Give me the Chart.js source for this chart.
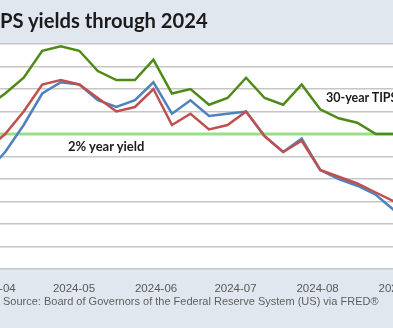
<!DOCTYPE html>
<html>
<head>
<meta charset="utf-8">
<script src="https://cdn.jsdelivr.net/npm/chart.js@4.4.1/dist/chart.umd.min.js"></script>
<style>
html,body{margin:0;padding:0;width:393px;height:328px;overflow:hidden;background:#e1e7ef;}
body{position:relative;}
#wrap{position:absolute;left:-40px;top:0;width:473px;height:328px;}
.txt{position:absolute;white-space:nowrap;line-height:1;}
#title{left:0px;top:8px;font:bold 20.2px Lato,sans-serif;color:#1b1b1b;}
#source{left:3px;top:295px;font:11px "Liberation Sans",Arial,sans-serif;color:#5f5f5f;}
#lab30{left:326px;top:90px;font:bold 12.5px Lato,sans-serif;color:#1b1b1b;}
#lab2{left:68px;top:138px;font:bold 13px Lato,sans-serif;color:#1b1b1b;}
</style>
</head>
<body>
<div id="wrap"><canvas id="c" width="473" height="328"></canvas></div>
<div id="title" class="txt">PS yields through 2024</div>
<div id="lab30" class="txt">30-year TIPS</div>
<div id="lab2" class="txt">2% year yield</div>
<div id="source" class="txt">Source: Board of Governors of the Federal Reserve System (US) via FRED®</div>
<script>
// ---- data (weekly) ----
const weeks = ["2024-03-29","2024-04-05","2024-04-12","2024-04-19","2024-04-26","2024-05-03","2024-05-10","2024-05-17","2024-05-24","2024-05-31","2024-06-07","2024-06-14","2024-06-21","2024-06-28","2024-07-05","2024-07-12","2024-07-19","2024-07-26","2024-08-02","2024-08-09","2024-08-16","2024-08-23","2024-08-30","2024-09-06"];
const tips30 = [2.12,2.18,2.25,2.37,2.39,2.37,2.28,2.24,2.24,2.33,2.18,2.20,2.13,2.16,2.25,2.16,2.13,2.22,2.11,2.07,2.05,2.00,2.00,1.99];
const tips10 = [1.93,2.00,2.10,2.22,2.24,2.22,2.16,2.10,2.12,2.20,2.04,2.09,2.02,2.04,2.10,1.99,1.92,1.97,1.84,1.81,1.78,1.74,1.70,1.67];
const tips5  = [1.83,1.92,2.04,2.18,2.23,2.22,2.15,2.12,2.15,2.23,2.09,2.15,2.08,2.09,2.10,1.99,1.92,1.98,1.84,1.80,1.77,1.73,1.66,1.60];
const refDates = ["2024-03-29","2024-09-06"];
const refYield = [2.0, 2.0];
const monthLabels = ["2024-04","2024-05","2024-06","2024-07","2024-08","2024-09"];
const yTicks = [1.4,1.5,1.6,1.7,1.8,1.9,2.0,2.1,2.2,2.3,2.4];

// ---- helpers ----
function toDay(s){
  const y=+s.slice(0,4), m=+s.slice(5,7)-1, d = s.length>7 ? +s.slice(8,10) : 1;
  return Date.UTC(y,m,d)/864e5;
}
const pts = arr => weeks.map((w,i)=>({x:toDay(w), y:arr[i]}));
const monthDays = monthLabels.map(toDay);

const pxPerDay = 2.6475;
const may1 = toDay("2024-05-01");
const xMin = may1 - 114/pxPerDay;
const xMax = xMin + 473/pxPerDay;

const bg = {id:'bg', beforeDraw(c){
  const {ctx, chartArea:a} = c;
  ctx.save(); ctx.fillStyle='#ffffff';
  ctx.fillRect(a.left, a.top, a.right-a.left, a.bottom-a.top);
  ctx.restore();
}};

new Chart(document.getElementById('c'), {
  type:'line',
  data:{datasets:[
    {label:'10-year TIPS', data:pts(tips10), borderColor:'#c0504d', borderWidth:2.5, order:1},
    {label:'5-year TIPS', data:pts(tips5), borderColor:'#4f81bd', borderWidth:2.5, order:2},
    {label:'30-year TIPS', data:pts(tips30), borderColor:'#4e8a16', borderWidth:2.5, order:3},
    {label:'2% year yield', data:refDates.map((d,i)=>({x:toDay(d), y:refYield[i]})), borderColor:'#98e086', borderWidth:3, order:10}
  ]},
  options:{
    responsive:false, animation:false, devicePixelRatio:1,
    elements:{point:{radius:0}, line:{tension:0}},
    layout:{padding:{top:44,left:0,right:0,bottom:0}},
    plugins:{legend:{display:false}, tooltip:{enabled:false}},
    scales:{
      x:{type:'linear', min:xMin, max:xMax,
        grid:{display:false}, border:{display:false},
        afterBuildTicks:s=>{s.ticks = monthDays.map(v=>({value:v}));},
        afterFit:s=>{s.height=59;},
        ticks:{autoSkip:false, maxRotation:0, padding:5, color:'#595959',
          font:{family:'Liberation Sans', size:11.5},
          callback:(v)=>{const i=monthDays.indexOf(v); return i>=0?monthLabels[i]:'';}}
      },
      y:{type:'linear', min:1.4, max:2.4,
        afterBuildTicks:s=>{s.ticks = yTicks.map(v=>({value:v}));},
        afterFit:s=>{s.width=0;},
        ticks:{display:false}, border:{display:false},
        grid:{color:'#c6c6c6', lineWidth:1.6, drawTicks:false}
      }
    }
  },
  plugins:[bg]
});
</script>
</body>
</html>
